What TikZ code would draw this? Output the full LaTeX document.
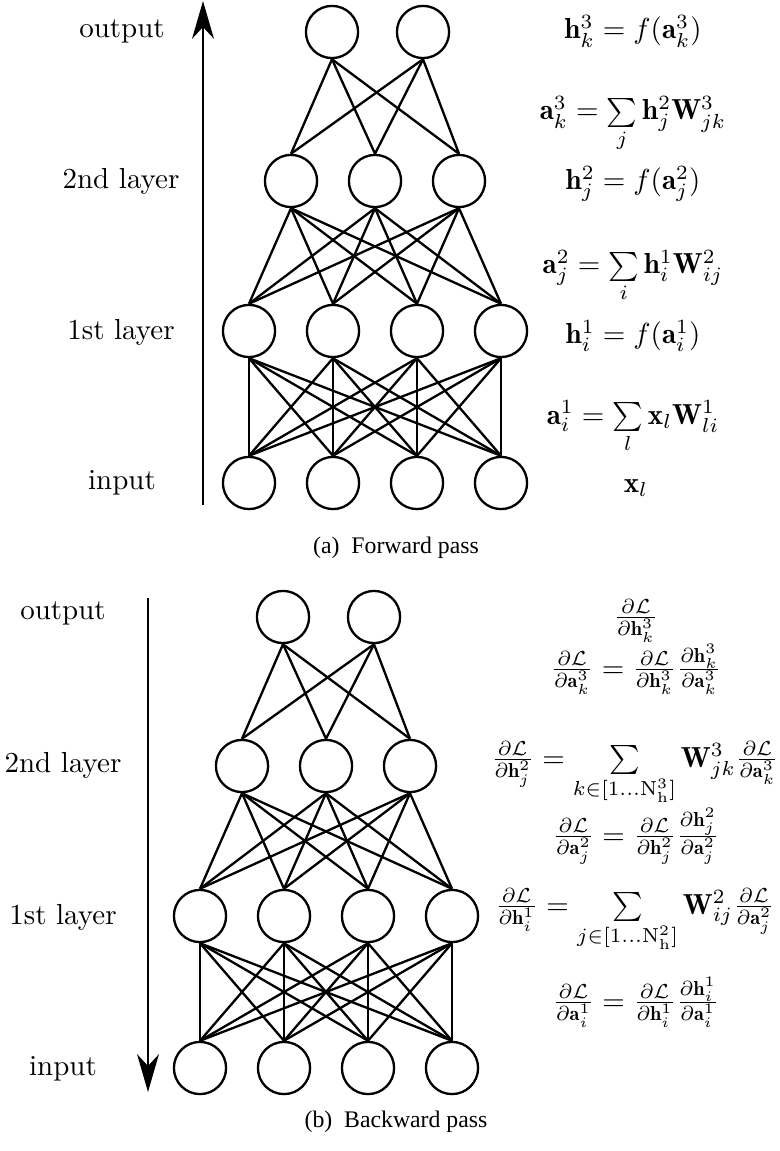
\documentclass[tikz,border=0pt]{standalone}
\usepackage{amsmath}
\usepackage{fontspec}
\newfontfamily\capfont{LiberationSerif}[Extension=.ttf, UprightFont=*-Regular]
\usetikzlibrary{arrows.meta, positioning}

\begin{document}
\begin{tikzpicture}[
      x=0.345pt, y=-0.345pt,
      neuron/.style={circle, draw, line width=0.8pt, minimum size=18pt, inner sep=0pt},
      link/.style={line width=0.8pt},
      flow/.style={line width=1pt, -{Stealth[length=13pt, width=7.5pt, inset=4pt]}},
      eqn/.style={anchor=base, inner sep=0pt},
      subcap/.style={font=\fontsize{8.2}{10}\capfont}
    ]
      \useasboundingbox (0,0) rectangle (779,1151);

      % both networks, the backward one shifted down and left
      \foreach \p/\dx/\dy in {f/0/0, b/-49/585} {
        \begin{scope}[shift={(\dx,\dy)}]
          \foreach \i/\x in {1/332, 2/423} \node[neuron] (\p o\i) at (\x,32) {};
          \foreach \i/\x in {1/291, 2/375, 3/459} \node[neuron] (\p s\i) at (\x,181) {};
          \foreach \i/\x in {1/249, 2/333, 3/417, 4/501} {
            \node[neuron] (\p h\i) at (\x,331) {};
            \node[neuron] (\p i\i) at (\x,483) {};
          }
        \end{scope}
        \foreach \a in {1,2} \foreach \b in {1,2,3}
          \draw[link] (\p o\a.south) -- (\p s\b.north);
        \foreach \a in {1,2,3} \foreach \b in {1,2,3,4}
          \draw[link] (\p s\a.south) -- (\p h\b.north);
        \foreach \a in {1,2,3,4} \foreach \b in {1,2,3,4}
          \draw[link] (\p h\a.south) -- (\p i\b.north);
      }

      % forward pass
      \coordinate (fbot) at (203,505);
      \coordinate (ftop) at (203,1);
      \draw[flow] (fbot) -- (ftop);
      \node (flo) at (122,31) {output};
      \node (fls) at (121,181) {2nd layer};
      \node (flh) at (121,332) {1st layer};
      \node (fli) at (122,483) {input};

      \node[eqn] (fe1) at (633,39) {$\mathbf{h}^3_k = f(\mathbf{a}^3_k)$};
      \node[eqn] (fe2) at (633,120) {$\mathbf{a}^3_k = \sum\limits_j \mathbf{h}^2_j\mathbf{W}^3_{jk}$};
      \node[eqn] (fe3) at (633,190) {$\mathbf{h}^2_j = f(\mathbf{a}^2_j)$};
      \node[eqn] (fe4) at (633,274) {$\mathbf{a}^2_j = \sum\limits_i \mathbf{h}^1_i\mathbf{W}^2_{ij}$};
      \node[eqn] (fe5) at (633,344) {$\mathbf{h}^1_i = f(\mathbf{a}^1_i)$};
      \node[eqn] (fe6) at (633,424) {$\mathbf{a}^1_i = \sum\limits_l \mathbf{x}_l\mathbf{W}^1_{li}$};
      \node[eqn] (fe7) at (636,492) {$\mathbf{x}_l$};

      \node[subcap] (fcap) at (396,548) {(a)\enspace Forward pass};

      % backward pass
      \coordinate (btop) at (148,598);
      \coordinate (bbot) at (148,1092);
      \draw[flow] (btop) -- (bbot);
      \node (blo) at (63,613) {output};
      \node (bls) at (63,765) {2nd layer};
      \node (blh) at (63,917) {1st layer};
      \node (bli) at (63,1069) {input};

      \node[eqn] (be1) at (636,625) {$\frac{\partial\mathcal{L}}{\partial\mathbf{h}^3_k}$};
      \node[eqn] (be2) at (636,677) {$\frac{\partial\mathcal{L}}{\partial\mathbf{a}^3_k} = \frac{\partial\mathcal{L}}{\partial\mathbf{h}^3_k}\frac{\partial\mathbf{h}^3_k}{\partial\mathbf{a}^3_k}$};
      \node[eqn] (be3) at (635,767) {$\frac{\partial\mathcal{L}}{\partial\mathbf{h}^2_j} = \sum\limits_{k\in[1\ldots\mathrm{N}^3_\mathrm{h}]} \mathbf{W}^3_{jk}\frac{\partial\mathcal{L}}{\partial\mathbf{a}^3_k}$};
      \node[eqn] (be4) at (636,844) {$\frac{\partial\mathcal{L}}{\partial\mathbf{a}^2_j} = \frac{\partial\mathcal{L}}{\partial\mathbf{h}^2_j}\frac{\partial\mathbf{h}^2_j}{\partial\mathbf{a}^2_j}$};
      \node[eqn] (be5) at (635,914) {$\frac{\partial\mathcal{L}}{\partial\mathbf{h}^1_i} = \sum\limits_{j\in[1\ldots\mathrm{N}^2_\mathrm{h}]} \mathbf{W}^2_{ij}\frac{\partial\mathcal{L}}{\partial\mathbf{a}^2_j}$};
      \node[eqn] (be6) at (636,1010) {$\frac{\partial\mathcal{L}}{\partial\mathbf{a}^1_i} = \frac{\partial\mathcal{L}}{\partial\mathbf{h}^1_i}\frac{\partial\mathbf{h}^1_i}{\partial\mathbf{a}^1_i}$};

      \node[subcap] (bcap) at (396,1122) {(b)\enspace Backward pass};
    \end{tikzpicture}
\end{document}
